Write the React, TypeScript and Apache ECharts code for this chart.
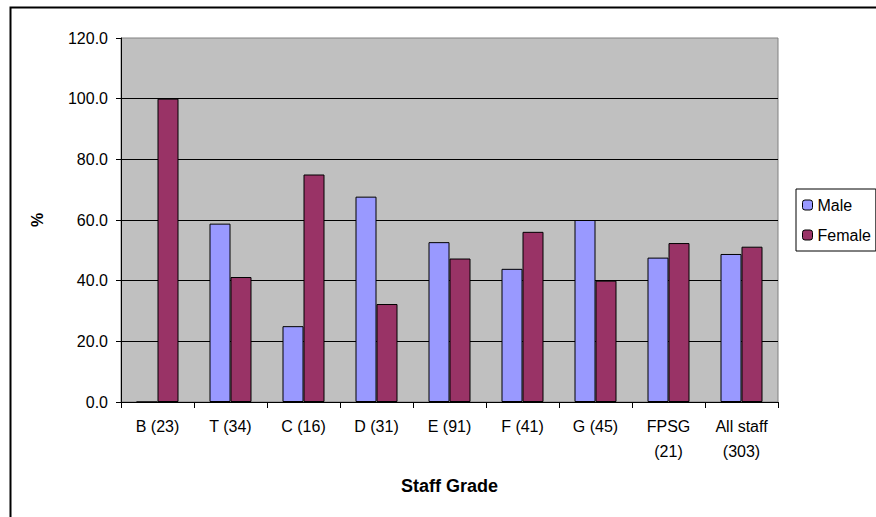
import React, { useEffect, useRef } from "react";
import * as echarts from "echarts";

const categories = [
  "B (23)",
  "T (34)",
  "C (16)",
  "D (31)",
  "E (91)",
  "F (41)",
  "G (45)",
  "FPSG\n(21)",
  "All staff\n(303)",
];
const maleValues = [0, 58.8, 25.0, 67.7, 52.7, 43.9, 60.0, 47.6, 48.8];
const femaleValues = [100.0, 41.2, 75.0, 32.3, 47.3, 56.1, 40.0, 52.4, 51.2];
const seriesNames = ["Male", "Female"];
const yTicks = { min: 0, max: 120, interval: 20 };

const FONT = "'Liberation Sans', Arial, sans-serif";

export default function App() {
  const ref = useRef<HTMLDivElement>(null);
  useEffect(() => {
    document.body.style.margin = "0";
    if (!ref.current) return;
    const chart = echarts.init(ref.current, null, { renderer: "svg" });
    chart.setOption({
      animation: false,
      backgroundColor: "#ffffff",
      textStyle: { fontFamily: FONT, color: "#000" },
      graphic: [
        {
          type: "rect",
          left: 8,
          top: 5,
          shape: { width: 1000, height: 1000 },
          style: { fill: "none", stroke: "#000", lineWidth: 2 },
          silent: true,
          z: 100,
        },
      ],
      grid: {
        left: 121,
        right: 98,
        top: 38,
        bottom: 115,
        show: true,
        backgroundColor: "#C0C0C0",
        borderColor: "#808080",
        borderWidth: 1,
      },
      legend: {
        orient: "vertical",
        left: 796,
        top: 189,
        padding: [8, 5, 8, 6],
        itemGap: 14,
        itemWidth: 10,
        itemHeight: 10,
        itemTextGap: 5,
        borderColor: "#000",
        borderWidth: 1,
        backgroundColor: "#fff",
        textStyle: { fontFamily: FONT, fontSize: 16, color: "#000" },
        itemStyle: { borderColor: "#000", borderWidth: 1 },
        data: seriesNames,
      },
      xAxis: {
        type: "category",
        data: categories,
        name: "Staff Grade",
        nameLocation: "middle",
        nameGap: 75,
        nameTextStyle: { fontFamily: FONT, fontSize: 18, fontWeight: "bold", color: "#000" },
        axisLine: { lineStyle: { color: "#000", width: 1 } },
        axisTick: { show: true, length: 6, lineStyle: { color: "#000" } },
        axisLabel: {
          fontFamily: FONT,
          fontSize: 16,
          color: "#000",
          margin: 12,
          lineHeight: 25,
          interval: 0,
        },
        splitLine: { show: false },
      },
      yAxis: {
        type: "value",
        min: yTicks.min,
        max: yTicks.max,
        interval: yTicks.interval,
        name: "%",
        nameLocation: "middle",
        nameRotate: 90,
        nameGap: 76,
        nameTextStyle: { fontFamily: FONT, fontSize: 16, fontWeight: "bold", color: "#000" },
        axisLine: { show: true, lineStyle: { color: "#000", width: 1 } },
        axisTick: { show: true, length: 5, lineStyle: { color: "#000" } },
        axisLabel: {
          fontFamily: FONT,
          fontSize: 16,
          color: "#000",
          margin: 13,
          formatter: (v: number) => v.toFixed(1),
        },
        splitLine: {
          show: true,
          showMinLine: false,
          showMaxLine: false,
          lineStyle: { color: "#000", width: 1 },
        },
      },
      series: [
        {
          name: seriesNames[0],
          type: "bar",
          data: maleValues,
          barWidth: 21,
          barGap: "0%",
          itemStyle: { color: "#9999FF", borderColor: "#000", borderWidth: 1 },
        },
        {
          name: seriesNames[1],
          type: "bar",
          data: femaleValues,
          barWidth: 21,
          barGap: "0%",
          itemStyle: { color: "#993366", borderColor: "#000", borderWidth: 1 },
        },
      ],
    });
    return () => chart.dispose();
  }, []);
  return <div ref={ref} style={{ width: 876, height: 517 }} />;
}
